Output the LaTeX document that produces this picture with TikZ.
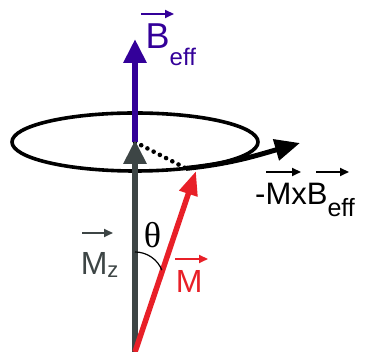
\documentclass[tikz,border=0pt]{standalone}
\usepackage{fontspec}
\setmainfont{Liberation Sans}
\newfontfamily\grk{Liberation Serif}
\usetikzlibrary{arrows.meta}
\definecolor{bfield}{RGB}{51,0,153}
\definecolor{mzgrey}{RGB}{61,69,69}
\definecolor{mred}{RGB}{232,32,40}
\tikzset{
  vec/.style={line width=2pt,-{Triangle[length=9pt,width=8pt]}},
  lbl/.style={inner sep=0pt,anchor=base west},
  bigarrow/.style={line width=6pt,-{Triangle[length=24pt,width=22pt]}}
}
\begin{document}
\begin{tikzpicture}[x=1pt,y=1pt]
\useasboundingbox (0,0) rectangle (369,352);
\coordinate (O) at (135,0);
\coordinate (C) at (135,210);
\coordinate (Btip) at (135,313);
\coordinate (Mzt) at (135,212);
\coordinate (Mtip) at (196,181);
\coordinate (P) at (186,183.6);
\coordinate (T) at (300,209);
% precession ellipse
\draw[line width=3.6pt] (C) ellipse [x radius=123, y radius=29];
% torque arrow
\draw[line width=5pt,-{Triangle[length=25pt,width=21pt]}] (P) to[out=6,in=196] (T);
% dotted radius
\draw[line width=4.6pt,line cap=round,dash pattern=on 0pt off 7pt] (C) -- (P);
% B_eff
\draw[bigarrow,bfield] (C) -- (Btip);
% M_z
\draw[bigarrow,mzgrey] (O) -- (Mzt);
% M
\draw[line width=5.5pt,mred,-{Triangle[length=24pt,width=18pt]}] (O) -- (Mtip);
% theta arc
\draw[line width=1.2pt] (135,100) arc[start angle=90,end angle=22,radius=29];
\node[inner sep=0pt] (th) at (152.5,117) {\grk\fontsize{36}{36}\selectfont θ};
% labels
\node[lbl,bfield] (lb) at (145.5,303) {\fontsize{36}{36}\selectfont B\raisebox{-17pt}{\fontsize{24}{24}\selectfont eff}};
\draw[vec,bfield] (141,338) -- (174,338);
\node[lbl,mzgrey] (lmz) at (80.6,77) {\fontsize{32}{32}\selectfont M\raisebox{-3pt}{\fontsize{22}{22}\selectfont z}};
\draw[vec,mzgrey] (82,119) -- (113,119);
\node[lbl,mred] (lm) at (175.6,59) {\fontsize{32}{32}\selectfont M};
\draw[vec,mred] (175,93) -- (208,93);
\node[lbl] (lt) at (255,147) {\fontsize{31}{31}\selectfont -MxB\raisebox{-12pt}{\fontsize{25}{25}\selectfont eff}};
\draw[vec] (266,180) -- (301,180);
\draw[vec] (316,180) -- (349,180);
\end{tikzpicture}
\end{document}
